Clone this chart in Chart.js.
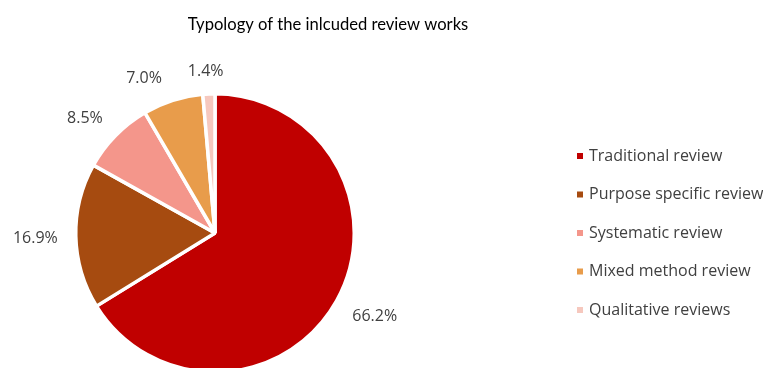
<!DOCTYPE html>
<html>
<head>
<meta charset="utf-8">
<script src="https://cdn.jsdelivr.net/npm/chart.js@4/dist/chart.umd.min.js"></script>
<style>
  html, body { margin: 0; padding: 0; background: #fff; overflow: hidden; }
  #wrap { position: relative; width: 763px; height: 380px; }
</style>
</head>
<body>
<div id="wrap"><canvas id="pie"></canvas></div>
<script>
'use strict';
// Typologie des revues incluses — camembert, étiquettes % à l'extérieur, légende à droite.

const TITLE = 'Typology of the inlcuded review works';
const CATEGORIES = ['Traditional review', 'Purpose specific review', 'Systematic review', 'Mixed method review', 'Qualitative reviews'];
const SHARES = [66.2, 16.9, 8.5, 7.0, 1.4];
const COLORS = ['#c00000', '#a64b10', '#f4968b', '#e89c4b', '#f6c8be'];

const TFONT = 'Lato, sans-serif';
const FONT = '"Open Sans", sans-serif';
const fPct = v => v.toFixed(1) + '%';
const clamp = v => Math.max(-1, Math.min(1, v));

// titre + étiquettes de valeur + légende, dessinés à la main
const decor = {
  id: 'decor',
  afterDraw(chart) {
    const ctx = chart.ctx;
    ctx.save();
    ctx.fillStyle = '#000';
    ctx.font = '16.6px ' + TFONT;
    ctx.textAlign = 'center';
    ctx.textBaseline = 'middle';
    ctx.fillText(TITLE, 328, 25);

    // étiquettes % : le coin du texte côté camembert touche un point à r + 18 sur la bissectrice
    const arcs = chart.getDatasetMeta(0).data;
    ctx.font = '16px ' + FONT;
    const capH = 11.4;
    const labs = arcs.map((a, i) => {
      const mid = (a.startAngle + a.endAngle) / 2;
      const c = Math.cos(mid), s = Math.sin(mid);
      const txt = fPct(SHARES[i]);
      const w = ctx.measureText(txt).width;
      const R = a.outerRadius + 18;
      return { txt, w, x: a.x + c * R + clamp(3 * c) * w / 2, y: a.y + s * R + clamp(3 * s) * capH / 2 };
    });
    // anti-chevauchement : on repousse vers la gauche l'étiquette trop proche de la suivante
    for (let i = labs.length - 2; i >= 0; i--) {
      const a = labs[i], b = labs[i + 1];
      if (Math.abs(a.y - b.y) < 16 && a.x < b.x) {
        const gap = (b.x - b.w / 2) - (a.x + a.w / 2);
        if (gap < 26) a.x -= 26 - gap;
      }
    }
    ctx.fillStyle = '#404040';
    ctx.textBaseline = 'alphabetic';
    labs.forEach(l => ctx.fillText(l.txt, l.x, l.y + capH / 2));

    // légende
    ctx.textAlign = 'left';
    ctx.textBaseline = 'middle';
    ctx.font = '16px ' + FONT;
    CATEGORIES.forEach((lab, i) => {
      const y = 156 + i * 38.5;
      ctx.fillStyle = COLORS[i];
      ctx.fillRect(577, y - 3, 6, 6);
      ctx.fillStyle = '#404040';
      ctx.fillText(lab, 589, y);
    });
    ctx.restore();
  }
};

new Chart(document.getElementById('pie').getContext('2d'), {
  type: 'pie',
  data: {
    labels: CATEGORIES,
    datasets: [{ data: SHARES, backgroundColor: COLORS, borderColor: '#fff', borderWidth: 3.5 }]
  },
  options: {
    responsive: true, maintainAspectRatio: false, animation: false,
    layout: { padding: { left: 74, top: 92, right: 407, bottom: 6 } },
    plugins: { legend: { display: false }, title: { display: false }, tooltip: { enabled: false } }
  },
  plugins: [decor]
});
</script>
</body>
</html>
